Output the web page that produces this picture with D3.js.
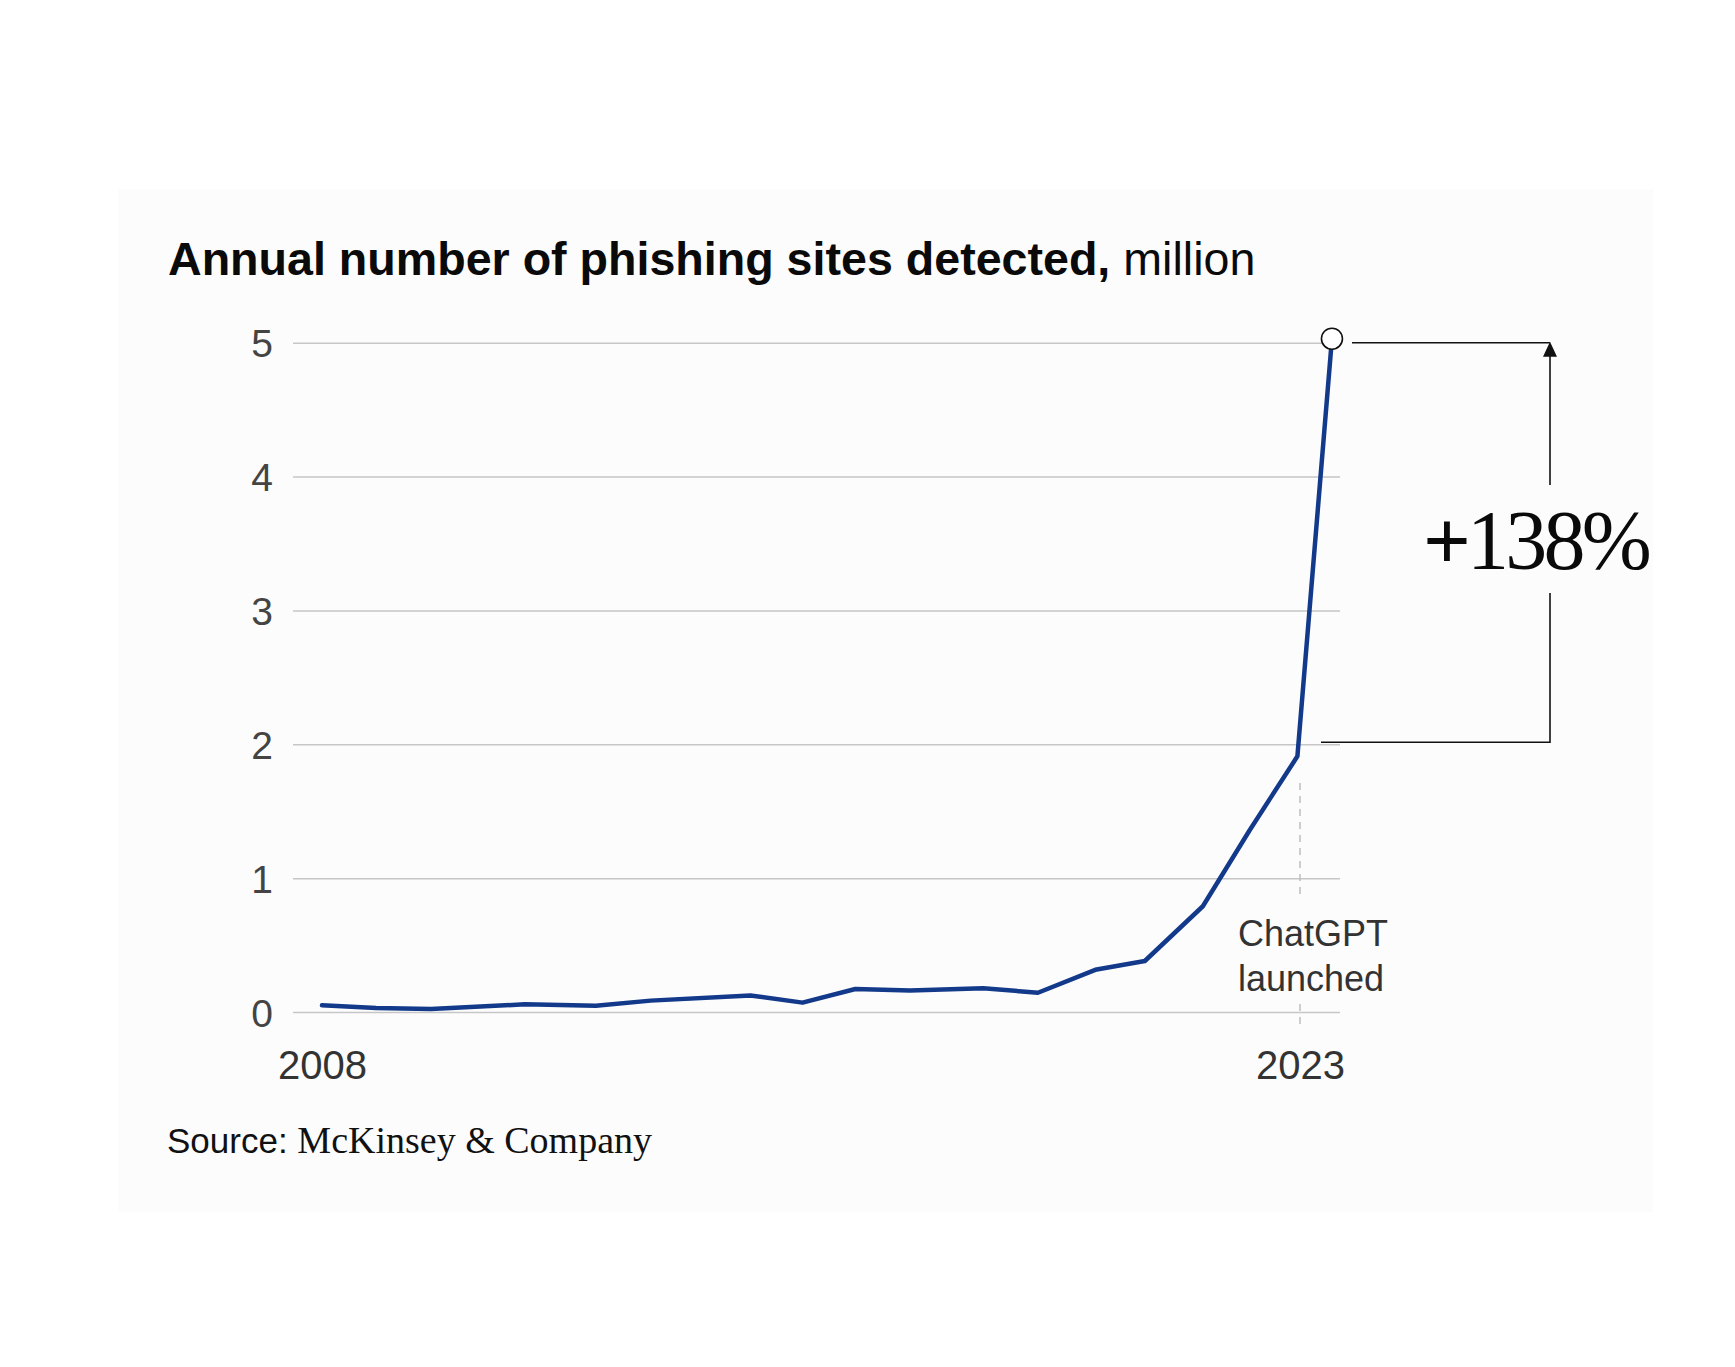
<!DOCTYPE html>
<html>
<head>
<meta charset="utf-8">
<script src="https://cdn.jsdelivr.net/npm/d3@7"></script>
<style>
  html, body { margin: 0; padding: 0; background: #ffffff; }
  svg { display: block; }
</style>
</head>
<body>
<svg id="chart" width="1735" height="1367"></svg>
<script>
// values (x positions are fractional years)
var years = [2008.0, 2008.83, 2009.67, 2011.11, 2012.2, 2013.04, 2014.57, 2015.37, 2016.18,
             2017.02, 2018.14, 2018.98, 2019.86, 2020.62, 2021.51, 2022.23, 2022.96, 2023.49];
var sites = [0.05, 0.03, 0.022, 0.057, 0.046, 0.085, 0.124, 0.07, 0.172,
             0.16, 0.178, 0.144, 0.315, 0.381, 0.79, 1.36, 1.91, 5.03];
var yTicks = [0, 1, 2, 3, 4, 5];
var xTicks = [2008, 2023];
var launchYear = 2023;
var bracketFrom = 2, bracketTo = 5;

var svg = d3.select("#chart");

// light panel behind the chart
svg.append("rect")
    .attr("x", 118).attr("y", 189)
    .attr("width", 1535).attr("height", 1023)
    .attr("fill", "#fcfcfc");

var x = d3.scaleLinear().domain([2008, 2023]).range([322, 1300]);
var y = d3.scaleLinear().domain([0, 5]).range([1012, 342.7]);

// title
var title = svg.append("text")
    .attr("x", 168).attr("y", 275)
    .attr("font-family", "Liberation Sans, Arial, sans-serif")
    .attr("font-size", 46.6)
    .attr("fill", "#0a0a0a");
title.append("tspan").attr("font-weight", "bold").text("Annual number of phishing sites detected,");
title.append("tspan").attr("font-weight", "normal").text(" million");

// y axis with grid lines
var yAxis = svg.append("g")
    .attr("transform", "translate(293,0)")
    .call(d3.axisLeft(y).tickValues(yTicks).tickFormat(d3.format("d"))
        .tickSize(-(1340 - 293)).tickPadding(20));
yAxis.select(".domain").remove();
yAxis.selectAll(".tick line").attr("stroke", "#c6c6c6").attr("stroke-width", 1.5);
yAxis.selectAll(".tick text")
    .attr("font-family", "Liberation Sans, Arial, sans-serif")
    .attr("font-size", 39)
    .attr("fill", "#444")
    .attr("dy", "0.36em");

// x axis, labels only
var xAxis = svg.append("g")
    .attr("transform", "translate(0," + y(0) + ")")
    .call(d3.axisBottom(x).tickValues(xTicks).tickFormat(d3.format("d")).tickSize(0).tickPadding(38.6));
xAxis.select(".domain").remove();
xAxis.selectAll(".tick text")
    .attr("font-family", "Liberation Sans, Arial, sans-serif")
    .attr("font-size", 40)
    .attr("fill", "#333");

// ChatGPT launch marker
var lx = x(launchYear);
svg.append("line")
    .attr("x1", lx).attr("x2", lx).attr("y1", 783).attr("y2", 895)
    .attr("stroke", "#bdbdbd").attr("stroke-width", 1.5).attr("stroke-dasharray", "7,6");
svg.append("line")
    .attr("x1", lx).attr("x2", lx).attr("y1", 1004).attr("y2", 1026)
    .attr("stroke", "#bdbdbd").attr("stroke-width", 1.5).attr("stroke-dasharray", "7,6");
var note = svg.append("text")
    .attr("font-family", "Liberation Sans, Arial, sans-serif")
    .attr("font-size", 36)
    .attr("fill", "#333");
note.append("tspan").attr("x", 1238).attr("y", 946).text("ChatGPT");
note.append("tspan").attr("x", 1238).attr("y", 991).text("launched");

// the series
var pts = years.map(function (d, i) { return [d, sites[i]]; });
var line = d3.line()
    .x(function (d) { return x(d[0]); })
    .y(function (d) { return y(d[1]); });
svg.append("path")
    .datum(pts)
    .attr("d", line)
    .attr("fill", "none")
    .attr("stroke", "#12398a")
    .attr("stroke-width", 4.5)
    .attr("stroke-linejoin", "round")
    .attr("stroke-linecap", "round");

var last = pts[pts.length - 1];
svg.append("circle")
    .attr("cx", x(last[0])).attr("cy", y(last[1]))
    .attr("r", 10.5)
    .attr("fill", "#ffffff")
    .attr("stroke", "#111")
    .attr("stroke-width", 1.6);

// change bracket
var bx = 1550, bTop = y(bracketTo), bBottom = y(bracketFrom) - 2;
var bracket = svg.append("g").attr("stroke", "#111").attr("stroke-width", 1.6).attr("fill", "none");
bracket.append("line").attr("x1", 1352).attr("x2", bx).attr("y1", bTop).attr("y2", bTop);
bracket.append("line").attr("x1", 1321).attr("x2", bx).attr("y1", bBottom).attr("y2", bBottom);
bracket.append("line").attr("x1", bx).attr("x2", bx).attr("y1", bTop + 12).attr("y2", 485);
bracket.append("line").attr("x1", bx).attr("x2", bx).attr("y1", 593).attr("y2", bBottom + 0.8);
svg.append("path")
    .attr("d", "M" + bx + "," + (bTop - 1) + "L" + (bx + 7) + "," + (bTop + 14) + "L" + (bx - 7) + "," + (bTop + 14) + "Z")
    .attr("fill", "#111");

var pct = svg.append("text")
    .attr("x", 1423).attr("y", 569)
    .attr("font-family", "Liberation Serif, Times New Roman, serif")
    .attr("font-size", 84)
    .attr("letter-spacing", -3.8)
    .attr("fill", "#0a0a0a");
pct.append("tspan").attr("font-weight", "bold").text("+");
pct.append("tspan").text("138%");

// source
var src = svg.append("text")
    .attr("x", 167).attr("y", 1153)
    .attr("fill", "#111");
src.append("tspan")
    .attr("font-family", "Liberation Sans, Arial, sans-serif")
    .attr("font-size", 35)
    .text("Source: ");
src.append("tspan")
    .attr("font-family", "Liberation Serif, Times New Roman, serif")
    .attr("font-size", 38)
    .text("McKinsey & Company");
</script>
</body>
</html>
